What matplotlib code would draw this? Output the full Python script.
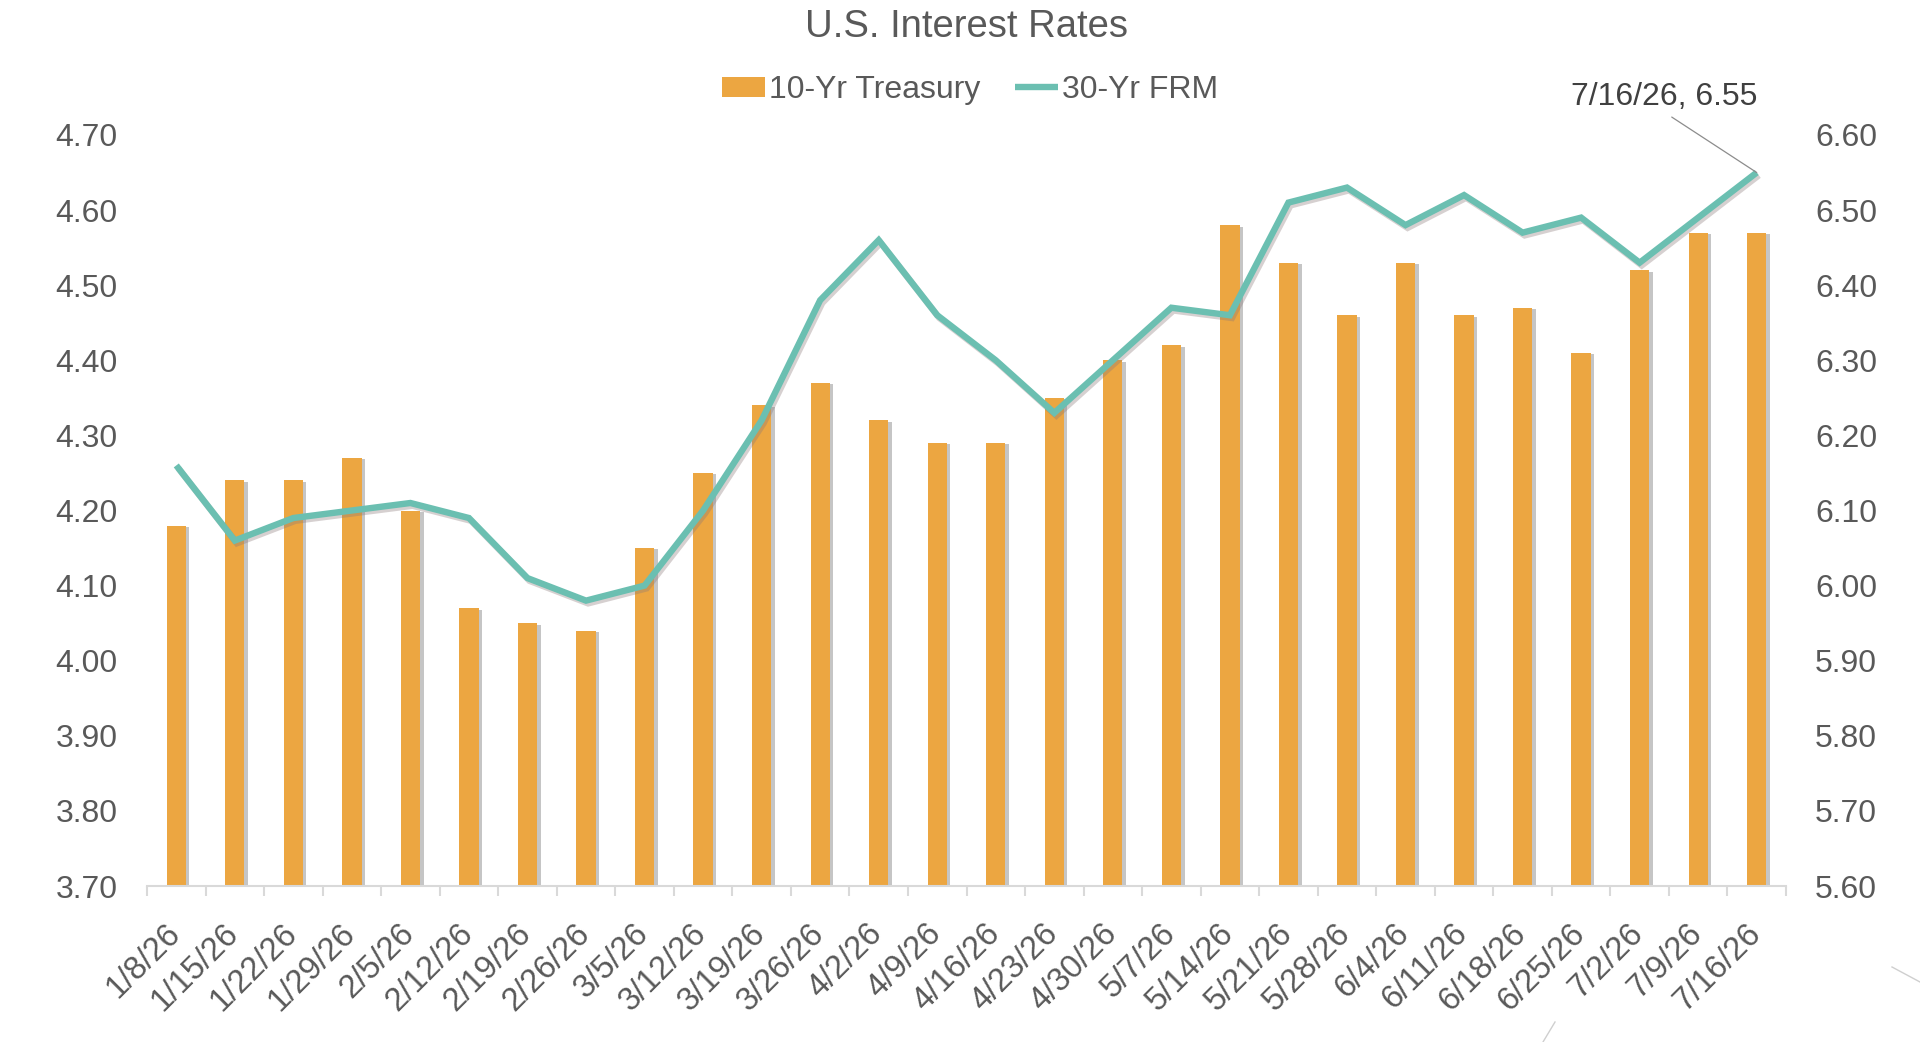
import matplotlib
matplotlib.use("Agg")
import matplotlib.pyplot as plt
import matplotlib.patheffects as pe
import matplotlib.transforms as mtransforms
from matplotlib.lines import Line2D
import numpy as np

plt.rcParams['font.family'] = ['Liberation Sans', 'DejaVu Sans']

dates = ["1/8/26", "1/15/26", "1/22/26", "1/29/26", "2/5/26", "2/12/26", "2/19/26",
         "2/26/26", "3/5/26", "3/12/26", "3/19/26", "3/26/26", "4/2/26", "4/9/26",
         "4/16/26", "4/23/26", "4/30/26", "5/7/26", "5/14/26", "5/21/26", "5/28/26",
         "6/4/26", "6/11/26", "6/18/26", "6/25/26", "7/2/26", "7/9/26", "7/16/26"]
treasury_10yr = [4.18, 4.24, 4.24, 4.27, 4.20, 4.07, 4.05, 4.04, 4.15, 4.25, 4.34,
                 4.37, 4.32, 4.29, 4.29, 4.35, 4.40, 4.42, 4.58, 4.53, 4.46, 4.53,
                 4.46, 4.47, 4.41, 4.52, 4.57, 4.57]
frm_30yr = [6.16, 6.06, 6.09, 6.10, 6.11, 6.09, 6.01, 5.98, 6.00, 6.10, 6.22,
            6.38, 6.46, 6.36, 6.30, 6.23, 6.30, 6.37, 6.36, 6.51, 6.53, 6.48,
            6.52, 6.47, 6.49, 6.43, 6.49, 6.55]
left_ticks = [3.70, 3.80, 3.90, 4.00, 4.10, 4.20, 4.30, 4.40, 4.50, 4.60, 4.70]
right_ticks = [5.60, 5.70, 5.80, 5.90, 6.00, 6.10, 6.20, 6.30, 6.40, 6.50, 6.60]

BAR = '#ECA641'
TEAL = '#6BBFB1'
TXT = '#595959'
AX = '#D9D9D9'

W, H = 1920, 1042
fig = plt.figure(figsize=(W / 100, H / 100), dpi=100)
ax = fig.add_axes([147 / W, 1 - 886 / H, (1786 - 147) / W, (886 - 135) / H])
ax2 = ax.twinx()

x = np.arange(len(dates))
bars = ax.bar(x, treasury_10yr, width=0.33, color=BAR, zorder=2,
              label='10-Yr Treasury')
for b in bars:
    b.set_path_effects([pe.SimplePatchShadow(offset=(2.5, -1), shadow_rgbFace='#808080', alpha=0.45),
                        pe.Normal()])
line, = ax2.plot(x, frm_30yr, color=TEAL, lw=4.6, solid_joinstyle='miter',
                 solid_capstyle='butt', zorder=3, label='30-Yr FRM',
                 path_effects=[pe.SimpleLineShadow(offset=(1.5, -2), shadow_color='#8a7a7a', alpha=0.35),
                               pe.Normal()])

ax.set_xlim(-0.5, len(dates) - 0.5)
ax.set_ylim(3.70, 4.70)
ax2.set_ylim(5.60, 6.60)
ax.set_yticks(left_ticks)
ax.set_yticklabels([f"{v:.2f}" for v in left_ticks])
ax2.set_yticks(right_ticks)
ax2.set_yticklabels([f"{v:.2f}" for v in right_ticks])

ax.set_xticks(x)
ax.set_xticklabels(dates, rotation=45, ha='right', rotation_mode='default')
ax.set_xticks(np.arange(-0.5, len(dates), 1.0), minor=True)

for a in (ax, ax2):
    for s in ('top', 'left', 'right', 'bottom'):
        a.spines[s].set_visible(False)
ax.spines['bottom'].set_visible(True)
ax.spines['bottom'].set_color(AX)
ax.spines['bottom'].set_linewidth(1.5)

ax.tick_params(axis='x', which='major', length=0, pad=23, labelsize=23.5, labelcolor=TXT)
ax.tick_params(axis='x', which='minor', length=7, width=1.5, color=AX, direction='out')
ax.tick_params(axis='y', length=0, pad=21, labelsize=23, labelcolor=TXT)
ax2.tick_params(axis='y', length=0, pad=21, labelsize=23, labelcolor=TXT)

# nudge rotated date labels to the right, as in the reference
shift = mtransforms.ScaledTranslation(10 / 100, 0, fig.dpi_scale_trans)
for tk in ax.xaxis.get_major_ticks():
    tk.label1.set_transform(tk.label1.get_transform() + shift)

fig.text(966 / W, 1 - 27 / H, "U.S. Interest Rates", ha='center', va='center',
         fontsize=27.5, color=TXT)

leg = fig.legend(handles=[bars, line], labels=['10-Yr Treasury', '30-Yr FRM'],
                 loc='center', bbox_to_anchor=(970 / W, 1 - 90 / H), ncol=2,
                 frameon=False, fontsize=23, handlelength=1.35, handleheight=0.6,
                 handletextpad=0.12, columnspacing=1.1, labelcolor=TXT,
                 borderaxespad=0, borderpad=0)
for h in leg.legend_handles:
    h.set_path_effects([])

ax2.annotate("7/16/26, 6.55", xy=(x[-1], frm_30yr[-1]), xycoords='data',
             xytext=(1664, H - 105), textcoords='figure pixels',
             ha='center', va='baseline', fontsize=23, color='#404040',
             arrowprops=dict(arrowstyle='-', color='#8c8c8c', lw=0.9,
                             shrinkA=3, shrinkB=0, relpos=(0.5, 0)))

# faint stray strokes seen near the bottom edge of the reference
fig.add_artist(Line2D([1892 / W, 1.0], [1 - 967 / H, 1 - 982 / H],
                      transform=fig.transFigure, color='#cfcfcf', lw=1))
fig.add_artist(Line2D([1555 / W, 1543 / W], [1 - 1022 / H, 0.0],
                      transform=fig.transFigure, color='#cfcfcf', lw=1))

fig.savefig("out.png", dpi=100)
